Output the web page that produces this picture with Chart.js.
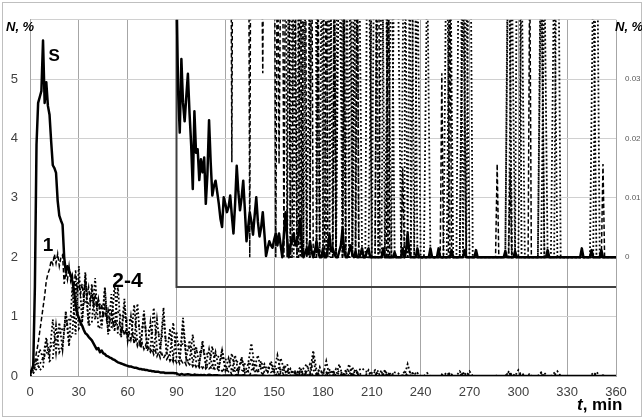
<!DOCTYPE html>
<html>
<head>
<meta charset="utf-8">
<script src="https://cdn.jsdelivr.net/npm/chart.js@4/dist/chart.umd.min.js"></script>
<style>
  html, body { margin: 0; padding: 0; background: #fff; }
  #c { display: block; }
</style>
</head>
<body>
<canvas id="c" width="642" height="419"></canvas>
<script>
// Share of fraction N (%) against time t (min).
// S and 1 are sampled every minute, 2-4 every two minutes.
const sValues = [
  0.05,0.1,0.18,1.5,3.9,4.6,4.7,4.8,5.65,4.6,
  4.95,4.55,4.4,3.95,3.55,3.5,3.42,2.95,2.7,2.62,
  2.55,2.0,1.75,1.85,1.78,1.7,1.6,1.45,1.2,1.05,
  0.98,0.9,0.85,0.78,0.72,0.7,0.66,0.63,0.6,0.55,
  0.5,0.45,0.47,0.4,0.43,0.38,0.37,0.34,0.33,0.31,
  0.3,0.28,0.27,0.25,0.23,0.22,0.21,0.2,0.19,0.18,
  0.17,0.16,0.16,0.15,0.14,0.14,0.13,0.12,0.12,0.11,
  0.11,0.1,0.1,0.09,0.09,0.08,0.08,0.07,0.07,0.07,
  0.06,0.06,0.06,0.05,0.05,0.05,0.05,0.05,0.05,0.045,
  0.045,0.028,0.021,0.0334,0.026,0.0229,0.027,0.0309,0.0243,0.019,
  0.0115,0.0246,0.0176,0.0182,0.013,0.0165,0.0143,0.0168,0.009,0.014,
  0.0231,0.016,0.0104,0.012,0.0129,0.011,0.009,0.0065,0.0051,0.0101,
  0.009,0.0076,0.0085,0.0104,0.007,0.004,0.009,0.0154,0.011,0.0079,
  0.01,0.0129,0.008,0.0027,0.005,0.0076,0.006,0.0038,0.007,0.0101,
  0.006,0.0035,0.005,0.0076,0.004,0.0002,0.0015,0.0027,0.002,0.0016,
  0.003,0.004,0.002,0.004,0.002,0,0.004,0.0076,0.003,0,
  0.002,0.003,0.004,0.002,0.0027,0.004,0.0065,0.002,0,0.0008,
  0.0015,0.0005,0.0027,0.001,0,0.001,0.0027,0.001,0,0,
  0.0015,0,0,0.0015,0.0038,0.001,0.0015,0.0005,0,0,
  0.001,0.002,0.0048,0.001,0,0,0.001,0.002,0.0005,0,
  0.001,0,0,0.0005,0.0015,0,0,0.001,0.0015,0,
  0,0,0,0,0,0,0,0.0015,0,0,
  0,0,0,0,0.0008,0,0,0,0,0.0015,
  0,0.001,0.004,0.001,0,0,0,0,0.0015,0,
  0,0,0,0,0,0,0.0015,0,0,0,
  0,0.0015,0,0,0,0,0,0,0,0.0012,
  0,0,0,0,0,0,0,0.0012,0,0,
  0,0,0,0,0.0012,0,0,0,0,0,
  0,0,0,0,0,0,0,0,0,0,
  0,0,0.001,0,0,0,0,0,0.001,0,
  0,0,0,0,0,0,0,0,0,0,
  0,0,0,0,0,0,0,0,0.0012,0,
  0,0,0,0,0,0,0,0,0,0,
  0,0,0,0,0,0,0,0,0,0.0015,
  0,0,0,0,0,0.0012,0,0,0,0,
  0,0.0012,0,0,0,0,0,0,0,0,
  0
];

const series1 = [
  0,0.08,0.15,0.25,0.4,0.55,0.75,0.95,1.15,1.35,
  1.6,1.72,1.8,1.95,1.88,2.05,1.9,2.06,1.85,2.0,
  2.04,1.55,1.75,1.62,1.85,1.6,1.7,1.5,1.78,1.45,
  1.6,1.38,1.55,1.3,1.7,1.35,1.5,1.25,1.45,1.2,
  1.38,1.15,1.3,1.05,1.22,0.98,1.15,0.95,1.1,0.9,
  1.05,0.85,0.95,0.88,0.8,0.9,0.72,0.82,0.68,0.78,
  0.65,0.72,0.6,0.7,0.55,0.62,0.5,0.58,0.48,0.55,
  0.45,0.52,0.42,0.48,0.4,0.45,0.36,0.43,0.33,0.4,
  0.3,0.38,0.3,0.35,0.28,0.33,0.25,0.3,0.24,0.29,
  0.22,0.27,0.2,0.26,0.21,0.24,0.18,0.23,0.19,0.22,
  0.16,0.21,0.15,0.2,0.14,0.18,0.13,0.17,0.12,0.16,
  0.12,0.15,0.1,0.14,0.1,0.13,0.09,0.12,0.08,0.11,
  0.08,0.1,0.07,0.09,0.016,0.1,0.08,0.12,0.09,0.13,
  0.1,0.08,0.11,0.07,0.09,0,0.1,0.12,0.08,0.1,
  0.07,0.09,0.06,0.031,0.08,0.1,0.07,0.09,0.06,0.08,
  0.07,0,0.06,0.0157,0.05,0.07,0,0.06,0.08,0.05,
  0,0,0.06,0.05,0,0,0.07,0,0.05,0.08,
  0,0,0,0.06,0,0,0,0.05,0,0,
  0,0,0.06,0,0,0,0,0.05,0,0,
  0,0,0,0.05,0,0,0,0,0,0,
  0,0.06,0,0,0,0,0,0,0,0,
  0,0,0,0.05,0.07,0,0,0,0,0,
  0.06,0,0,0,0,0,0,0,0,0.015,
  0,0,0,0,0,0,0,0,0,0,
  0,0,0,0,0,0,0,0,0,0,
  0,0,0,0.031,0,0,0,0,0.05,0,
  0,0,0,0,0,0,0,0,0,0,
  0,0,0,0,0,0,0,0,0,0,
  0,0,0,0,0,0,0,0.0157,0,0,
  0,0,0,0,0,0.015,0,0,0,0,
  0,0,0,0,0,0,0,0.05,0,0,
  0,0,0,0,0,0,0,0,0,0,
  0,0,0,0,0,0,0,0,0,0,
  0,0,0,0,0,0,0,0,0,0,
  0,0,0,0,0,0,0,0,0,0,
  0,0,0.0157,0,0,0,0,0,0,0,
  0
];

const series2 = [
  0.02,0.1,0.2,0.45,0.3,0.65,0.35,0.95,0.4,0.9,
  0.45,1.05,0.5,1.5,0.7,1.85,0.9,1.6,0.85,1.55,
  0.95,1.3,0.8,1.45,0.7,1.38,0.75,1.52,0.65,1.2,
  0.6,1.0,0.55,1.22,0.5,1.05,0.45,0.9,0.4,0.95,
  0.45,1.15,0.35,0.8,0.3,0.75,0.25,0.98,0.3,0.6,
  0.22,0.5,0.2,0.55,0.18,0.45,0.15,0.4,0.12,0.43,
  0.1,0.3,0.08,0.35,0.07,0.3,0.06,0.2,0.55,0.15,
  0.35,0.1,0.2,0.08,0.25,0.1,0.35,0.06,0.15,0,
  0.12,0,0.08,0,0.13,0.2,0,0.3,0,0.15,
  0,0.25,0,0.1,0,0.2,0,0.08,0,0.15,
  0,0.1,0.13,0.08,0.06,0,0,0.1,0.07,0,
  0.05,0,0,0,0,0,0.2,0,0.07,0,
  0,0,0,0,0,0,0,0,0,0.06,
  0,0,0.08,0,0.05,0,0,0,0,0,
  0,0,0,0,0,0,0,0,0.05,0,
  0.1,0,0,0,0,0,0,0.06,0,0,
  0,0.05,0,0,0,0,0,0,0,0,
  0,0,0,0.05,0,0,0,0,0,0,
  0
];

const series3 = [
  0,0.05,0.3,0.1,0.15,0.6,0.25,0.3,0.85,0.4,
  0.5,1.1,0.6,0.7,1.6,0.8,0.9,1.75,0.85,0.9,
  1.65,0.8,0.85,1.5,0.75,0.8,1.55,0.7,0.7,1.3,
  0.6,0.6,1.2,0.55,0.5,1.1,0.5,0.45,1.15,0.45,
  0.4,1.0,0.38,0.35,0.9,0.32,0.3,0.85,0.28,0.25,
  0.7,0.25,0.22,0.6,0.2,0.18,0.5,0.16,0.15,0.45,
  0.13,0.12,0.38,0.1,0.1,0.32,0.09,0.08,0.3,0.08,
  0.08,0.25,0.07,0.06,0.22,0.06,0.05,0.3,0.12,0.2,
  0,0.1,0.05,0.15,0,0.08,0.2,0.1,0.05,0,
  0.1,0.05,0.08,0,0.12,0.06,0,0.1,0.08,0,
  0.12,0,0,0,0,0.05,0.1,0,0.05,0.08,
  0,0.06,0,0,0,0,0,0.08,0,0.05,
  0,0,0.05,0,0,0,0,0,0.06,0,
  0,0,0,0.05,0,0.08,0,0,0,0,
  0,0,0,0,0,0,0,0.06,0,0,
  0,0.05,0,0,0,0,0,0,0.05,0,
  0,0,0.08,0,0,0,0,0,0,0,
  0,0,0,0,0,0,0,0,0,0,
  0
];

const series4 = [
  0,0.05,0.12,0.2,0.3,0.38,0.45,0.55,0.62,0.7,
  0.8,0.85,0.95,1.0,1.1,1.15,1.2,1.25,1.22,1.3,
  1.2,1.25,1.15,1.2,1.1,1.12,1.05,1.08,1.0,0.98,
  0.92,0.95,0.88,0.85,0.82,0.84,0.78,0.75,0.72,0.74,
  0.68,0.66,0.62,0.64,0.58,0.56,0.52,0.54,0.5,0.47,
  0.45,0.43,0.4,0.42,0.38,0.36,0.34,0.35,0.32,0.3,
  0.28,0.27,0.25,0.26,0.23,0.22,0.2,0.21,0.19,0.18,
  0.17,0.16,0.15,0.14,0.13,0.12,0.12,0.11,0.1,0.1,
  0.08,0.06,0,0.1,0.06,0,0.05,0.43,0.1,0.08,
  0.05,0,0.1,0.07,0,0.06,0.05,0,0.2,0,
  0.05,0.06,0,0,0.1,0,0.08,0,0,0.1,
  0,0,0.06,0.05,0,0.07,0,0,0,0,
  0,0,0,0,0,0,0,0,0,0,
  0,0,0,0.06,0,0,0,0,0,0,
  0,0,0,0,0,0,0,0.07,0,0,
  0,0,0,0,0,0,0,0.05,0,0,
  0,0,0,0,0,0,0,0,0,0,
  0,0,0,0,0.07,0,0,0,0,0,
  0
];

// Axis ticks
const xTicks = [0, 30, 60, 90, 120, 150, 180, 210, 240, 270, 300, 330, 360];
const yLeftTicks = [0, 1, 2, 3, 4, 5];
const yLeftTop = 6;
const yRightTicks = [0, 0.01, 0.02, 0.03];

// Enlarged view of the tail: shares from t = 90 min on the right-hand axis
const insetFrom = 90;
const insetTop = 0.04;
const insetBottom = -0.005;

const FONT = '"Liberation Sans", Arial, sans-serif';

const toPoints = (vals, step, from) =>
  vals.map((v, i) => ({ x: i * step, y: v })).filter(p => p.x >= from);

const solid  = { borderColor: '#000', borderWidth: 2.5, borderJoinStyle: 'round' };
const dashed = { borderColor: '#000', borderWidth: 1.5, borderDash: [4.5, 2.5] };
const dotted = { borderColor: '#000', borderWidth: 1.8, borderDash: [1.8, 2.2] };

function line(label, vals, step, from, axis, style) {
  return Object.assign({
    label,
    data: toPoints(vals, step, from),
    yAxisID: axis,
    pointRadius: 0,
    fill: false,
    tension: 0,
    borderCapStyle: 'butt'
  }, style);
}

const datasets = [
  line('S', sValues, 1, 0, 'y', solid),
  line('S (tail)', sValues, 1, insetFrom, 'y2', solid),
  line('1', series1, 1, 0, 'y', dashed),
  line('1 (tail)', series1, 1, insetFrom, 'y2', dashed),
  line('2', series2, 2, 0, 'y', dotted),
  line('3', series3, 2, 0, 'y', dotted),
  line('4', series4, 2, 0, 'y', dotted),
  line('2 (tail)', series2, 2, insetFrom, 'y2', dotted),
  line('3 (tail)', series3, 2, insetFrom, 'y2', dotted),
  line('4 (tail)', series4, 2, insetFrom, 'y2', dotted),
  {
    label: 'tail frame',
    data: [
      { x: insetFrom, y: insetTop },
      { x: insetFrom, y: insetBottom },
      { x: xTicks[xTicks.length - 1], y: insetBottom }
    ],
    yAxisID: 'y2',
    pointRadius: 0,
    borderColor: '#404040',
    borderWidth: 2,
    fill: false
  }
];

// Page background and outer border
const backdrop = {
  id: 'backdrop',
  beforeDraw(chart) {
    const g = chart.ctx;
    g.save();
    g.fillStyle = '#fff';
    g.fillRect(0, 0, chart.width, chart.height);
    g.strokeStyle = '#bfbfbf';
    g.lineWidth = 1;
    g.strokeRect(2.5, 2.5, chart.width - 3, chart.height - 5);
    g.restore();
  }
};

// Axis titles and curve labels
const captions = {
  id: 'captions',
  afterDatasetsDraw(chart) {
    const g = chart.ctx;
    const a = chart.chartArea;
    const x = chart.scales.x, y = chart.scales.y;
    g.save();
    g.fillStyle = '#000';
    g.textBaseline = 'alphabetic';
    g.textAlign = 'left';

    g.font = 'italic bold 13px ' + FONT;
    g.fillText('N, %', a.left - 24, a.top + 11);
    g.fillText('N, %', a.right - 1, a.top + 11);

    g.font = 'italic bold 17px ' + FONT;
    const tx = a.right - 39, ty = a.bottom + 34;
    g.fillText('t', tx, ty);
    const tw = g.measureText('t').width;
    g.font = 'bold 17px ' + FONT;
    g.fillText(', min', tx + tw, ty);

    g.font = 'bold 17px ' + FONT;
    g.fillText('S', x.getPixelForValue(11.3), y.getPixelForValue(5.3));
    g.font = 'bold 19px ' + FONT;
    g.fillText('1', x.getPixelForValue(7.8), y.getPixelForValue(2.11));
    g.font = 'bold 21px ' + FONT;
    g.fillText('2-4', x.getPixelForValue(50.6), y.getPixelForValue(1.5));
    g.restore();
  }
};

new Chart(document.getElementById('c'), {
  type: 'line',
  data: { datasets },
  plugins: [backdrop, captions],
  options: {
    responsive: false,
    animation: false,
    events: [],
    layout: { padding: { top: 14, left: 0, right: 0, bottom: 0 } },
    plugins: { legend: { display: false }, tooltip: { enabled: false } },
    scales: {
      x: {
        type: 'linear',
        min: xTicks[0],
        max: xTicks[xTicks.length - 1],
        afterBuildTicks: s => { s.ticks = xTicks.map(v => ({ value: v })); },
        afterFit: s => { s.height = 43; },
        ticks: {
          color: '#404040',
          font: { family: FONT, size: 13 },
          padding: 9,
          maxRotation: 0,
          autoSkip: false,
          callback: v => String(v)
        },
        grid: { color: '#a6a6a6', drawTicks: false },
        border: { color: '#a6a6a6' }
      },
      y: {
        position: 'left',
        min: 0,
        max: yLeftTop,
        afterBuildTicks: s => {
          s.ticks = yLeftTicks.concat([yLeftTop]).map(v => ({ value: v }));
        },
        afterFit: s => { s.width = 30; },
        ticks: {
          color: '#404040',
          font: { family: FONT, size: 13 },
          padding: 12,
          callback: v => (yLeftTicks.includes(v) ? String(v) : '')
        },
        grid: { color: '#d0d0d0', drawTicks: false },
        border: { color: '#a6a6a6' }
      },
      y2: {
        position: 'right',
        min: -0.02,
        max: insetTop,
        afterBuildTicks: s => { s.ticks = yRightTicks.map(v => ({ value: v })); },
        afterFit: s => { s.width = 26; },
        ticks: {
          color: '#595959',
          font: { family: FONT, size: 8 },
          padding: 9,
          callback: v => String(v)
        },
        grid: { display: false, drawTicks: false },
        border: { display: false }
      }
    }
  }
});
</script>
</body>
</html>
